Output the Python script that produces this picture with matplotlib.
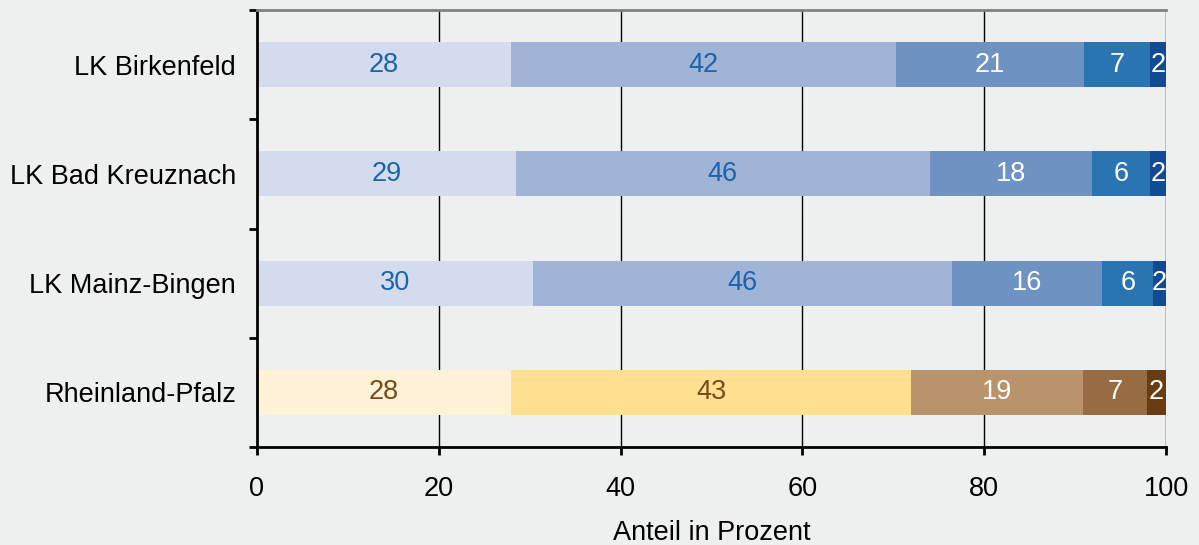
import numpy as np
import matplotlib.pyplot as plt

plt.rcParams['font.family'] = ['Liberation Sans', 'DejaVu Sans']

# data (top to bottom)
regions = ["LK Birkenfeld", "LK Bad Kreuznach", "LK Mainz-Bingen", "Rheinland-Pfalz"]
seg1 = [27.9, 28.5, 30.4, 27.9]
seg2 = [42.4, 45.5, 46.1, 44.1]
seg3 = [20.7, 17.9, 16.5, 18.9]
seg4 = [7.2, 6.3, 5.6, 7.0]
seg5 = [1.8, 1.8, 1.4, 2.1]
labels1 = [28, 29, 30, 28]
labels2 = [42, 46, 46, 43]
labels3 = [21, 18, 16, 19]
labels4 = [7, 6, 6, 7]
labels5 = [2, 2, 2, 2]

blues = ["#d3dcef", "#9fb4d6", "#6e93c3", "#2b74b2", "#124b92"]
browns = ["#fff2d5", "#ffe091", "#b8936c", "#986c42", "#693d12"]
blue_text = "#1c64aa"
brown_text = "#7a4a1c"

segs = [seg1, seg2, seg3, seg4, seg5]
labs = [labels1, labels2, labels3, labels4, labels5]
fs = 19.5

fig = plt.figure(figsize=(11.99, 5.45), dpi=100)
fig.patch.set_facecolor("#eef0ef")
ax = fig.add_axes([257 / 1199, 1 - 447 / 545, 909 / 1199, 437 / 545])
ax.set_facecolor("#eef0ef")

y = np.arange(len(regions))
left = np.zeros(len(regions))
for j, (vals, labvals) in enumerate(zip(segs, labs)):
    vals = np.array(vals)
    for i in range(len(regions)):
        pal = browns if regions[i] == "Rheinland-Pfalz" else blues
        ax.barh(y[i], vals[i], left=left[i], height=0.41, color=pal[j], zorder=2)
        if j < 2:
            tc = brown_text if pal is browns else blue_text
        else:
            tc = "white"
        ax.text(left[i] + vals[i] / 2, y[i], str(labvals[i]), ha="center", va="center",
                color=tc, fontsize=fs, zorder=3)
    left += vals

ax.set_xlim(0, 100)
ax.set_ylim(len(regions) - 0.5, -0.5)
ax.set_xticks(range(0, 101, 20))
ax.set_yticks(y)
ax.set_yticklabels(regions)
ax.set_yticks(np.arange(-0.5, len(regions), 1), minor=True)
ax.tick_params(axis="y", which="major", length=0, pad=15, labelsize=fs)
ax.tick_params(axis="y", which="minor", length=6, width=2, direction="out")
ax.tick_params(axis="x", length=6, width=2, direction="out", labelsize=fs, pad=15)
for x in range(20, 101, 20):
    ax.axvline(x, color="black", linewidth=1, zorder=1)

ax.spines["left"].set_linewidth(2)
ax.spines["bottom"].set_linewidth(2)
ax.spines["top"].set_color("#808080")
ax.spines["top"].set_linewidth(2)
ax.spines["right"].set_visible(False)

ax.set_xlabel("Anteil in Prozent", fontsize=fs, labelpad=13)

plt.savefig("out.png", dpi=100, facecolor=fig.get_facecolor())
